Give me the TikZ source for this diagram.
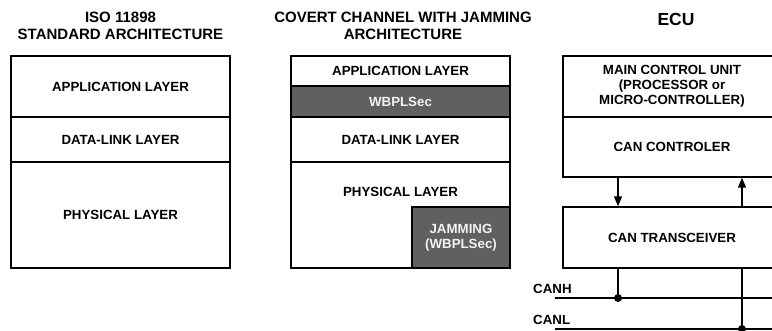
\documentclass[tikz,border=0pt]{standalone}
\usepackage{fontspec}
\setmainfont{Liberation Sans}
\usetikzlibrary{arrows.meta}
\definecolor{darkbox}{HTML}{606060}
\definecolor{lighttext}{HTML}{F2F2F2}
\begin{document}
\begin{tikzpicture}[x=1pt,y=-1pt,
  lbl/.style={font=\fontsize{13.3}{15}\selectfont\bfseries,align=center,inner sep=0pt},
  ttl/.style={font=\fontsize{15}{17}\selectfont\bfseries,align=center,inner sep=0pt},
  layerbox/.style={draw,line width=1.4pt,inner sep=0pt,minimum width=#1},
  darkfill/.style={fill=darkbox,text=lighttext},
  link/.style={line width=1.4pt},
  arr/.style={line width=1.4pt,-{Triangle[length=10pt,width=8pt]}},
  dotc/.style={circle,fill=black,inner sep=0pt,minimum size=8pt}]
\useasboundingbox (0,0) rectangle (772,331);
\clip (0,0) rectangle (772,331);
% titles
\node[ttl] (t1) at (120.5,25.5) {ISO 11898\\STANDARD ARCHITECTURE};
\node[ttl] (t2) at (403,25.5) {COVERT CHANNEL WITH JAMMING\\ARCHITECTURE};
\node[ttl,font=\fontsize{17.5}{19}\selectfont\bfseries] (t3) at (676,19) {ECU};
% left stack
\node[layerbox=219pt,minimum height=61pt,lbl] (la) at (120.5,86.5) {APPLICATION LAYER};
\node[layerbox=219pt,minimum height=45pt,lbl] (ld) at (120.5,139.5) {DATA-LINK LAYER};
\node[layerbox=219pt,minimum height=106pt,lbl] (lp) at (120.5,215) {PHYSICAL LAYER};
% middle stack
\node[layerbox=219pt,minimum height=30pt,lbl] (ma) at (400.5,71) {APPLICATION LAYER};
\node[layerbox=219pt,minimum height=31pt,lbl,darkfill] (mw) at (400.5,101.5) {WBPLSec};
\node[layerbox=219pt,minimum height=45pt,lbl] (md) at (400.5,139.5) {DATA-LINK LAYER};
\node[layerbox=219pt,minimum height=106pt] (mp) at (400.5,215) {};
\node[lbl] (mpt) at (400.5,192) {PHYSICAL LAYER};
\node[layerbox=98pt,minimum height=61pt,lbl,darkfill] (mj) at (461,237.5) {JAMMING\\(WBPLSec)};
% ECU
\node[layerbox=218pt,minimum height=61pt,lbl] (mcu) at (672,86.5) {MAIN CONTROL UNIT\\(PROCESSOR or\\MICRO-CONTROLLER)};
\node[layerbox=218pt,minimum height=60pt,lbl] (ctl) at (672,147) {CAN CONTROLER};
\node[layerbox=218pt,minimum height=61pt,lbl] (trx) at (672,237.5) {CAN TRANSCEIVER};
\draw[arr] (ctl.south -| 618,0) -- (trx.north -| 618,0);
\draw[arr] (trx.north -| 742,0) -- (ctl.south -| 742,0);
% bus
\coordinate (hA) at (555,298);
\coordinate (hB) at (780,298);
\coordinate (lA) at (555,329);
\coordinate (lB) at (780,329);
\draw[link] (hA) -- (hB);
\draw[link] (lA) -- (lB);
\node[dotc] (dh) at (618,298) {};
\node[dotc] (dl) at (742,329) {};
\draw[link] (trx.south -| dh) -- (dh.center);
\draw[link] (trx.south -| dl) -- (dl.center);
\node[lbl,anchor=west] (canh) at (533,289) {CANH};
\node[lbl,anchor=west] (canl) at (533,320) {CANL};
\end{tikzpicture}
\end{document}
